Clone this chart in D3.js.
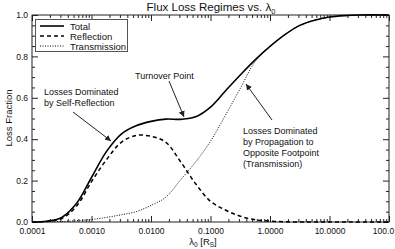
<!DOCTYPE html>
<html><head><meta charset="utf-8">
<script src="https://cdn.jsdelivr.net/npm/d3@7"></script>
<style>
html,body{margin:0;padding:0;background:#fff;}
text{font-family:"Liberation Sans",Arial,Helvetica,sans-serif;fill:#111;}
</style></head>
<body><svg id="c" width="395" height="249"></svg>
<script>
// log10(lambda0) sample positions
const logLambda = [-4,-3.75,-3.5,-3.25,-3,-2.75,-2.5,-2.25,-2,-1.75,-1.5,-1.25,-1,-0.75,-0.5,-0.25,0,0.25,0.5,0.75,1,1.25,1.5,2];
const total        = [0,0.004,0.022,0.09,0.215,0.34,0.425,0.465,0.486,0.497,0.496,0.508,0.555,0.633,0.71,0.783,0.848,0.905,0.95,0.975,0.99,0.997,1.0,1.0];
const reflection   = [0,0.003,0.017,0.077,0.195,0.3,0.385,0.418,0.414,0.385,0.29,0.185,0.1,0.058,0.028,0.011,0.004,0.001,0,0,0,0,0,0];
const transmission = [0,0.0005,0.002,0.006,0.012,0.022,0.035,0.05,0.08,0.12,0.205,0.29,0.39,0.515,0.645,0.775,0.848,0.905,0.95,0.975,0.99,0.997,1.0,1.0];
const xMajor = [1e-4,1e-3,1e-2,1e-1,1,10,100];
const xMajorLabels = ["0.0001","0.0010","0.0100","0.1000","1.0000","10.0000","100.0"];
const yMajor = [0,0.2,0.4,0.6,0.8,1.0];
const yMajorLabels = ["0.0","0.2","0.4","0.6","0.8","1.0"];
const legendNames = ["Total","Reflection","Transmission"];

const svg = d3.select("#c");
const L=32,R=389,T=15,B=222;
const x = d3.scaleLog().domain([1e-4,100]).range([L,R]);
const y = d3.scaleLinear().domain([0,1]).range([B,T]);

const xMinor=[];
for(let d=-4; d<2; d++) for(let k=2;k<=9;k++) xMinor.push(k*Math.pow(10,d));
const yMinor=d3.range(0,1.0001,0.05).filter(v=>Math.abs(v*5-Math.round(v*5))>1e-6);

function styleAxis(g){g.select(".domain").remove();g.selectAll("line").attr("stroke","#222").attr("stroke-width",1);
 g.selectAll("text").style("font-size","8.5px").attr("fill","#111");}

// bottom
const bx=svg.append("g").attr("transform",`translate(0,${B})`).call(d3.axisBottom(x).tickValues(xMajor).tickFormat((d,i)=>xMajorLabels[i]).tickSizeInner(-6).tickSizeOuter(0).tickPadding(6)).call(styleAxis);
bx.selectAll("text").filter(d=>d===100).attr("dx",-6);
svg.append("g").attr("transform",`translate(0,${B})`).call(d3.axisBottom(x).tickValues(xMinor).tickFormat("").tickSizeInner(-3).tickSizeOuter(0)).call(styleAxis);
// top
svg.append("g").attr("transform",`translate(0,${T})`).call(d3.axisTop(x).tickValues(xMajor).tickFormat("").tickSizeInner(-6).tickSizeOuter(0)).call(styleAxis);
svg.append("g").attr("transform",`translate(0,${T})`).call(d3.axisTop(x).tickValues(xMinor).tickFormat("").tickSizeInner(-3).tickSizeOuter(0)).call(styleAxis);
// left
svg.append("g").attr("transform",`translate(${L},0)`).call(d3.axisLeft(y).tickValues(yMajor).tickFormat((d,i)=>yMajorLabels[i]).tickSizeInner(-6).tickSizeOuter(0).tickPadding(4)).call(styleAxis);
svg.append("g").attr("transform",`translate(${L},0)`).call(d3.axisLeft(y).tickValues(yMinor).tickFormat("").tickSizeInner(-3).tickSizeOuter(0)).call(styleAxis);
// right
svg.append("g").attr("transform",`translate(${R},0)`).call(d3.axisRight(y).tickValues(yMajor).tickFormat("").tickSizeInner(-6).tickSizeOuter(0)).call(styleAxis);
svg.append("g").attr("transform",`translate(${R},0)`).call(d3.axisRight(y).tickValues(yMinor).tickFormat("").tickSizeInner(-3).tickSizeOuter(0)).call(styleAxis);
// frame
svg.append("rect").attr("x",L).attr("y",T).attr("width",R-L).attr("height",B-T).attr("fill","none").attr("stroke","#222").attr("stroke-width",1);

const line = v => d3.line().x((d,i)=>x(Math.pow(10,logLambda[i]))).y(d=>y(d)).curve(d3.curveCatmullRom.alpha(0.5))(v);
const series=[
 {vals:total,dash:null,w:1.6},
 {vals:reflection,dash:"4,3",w:1.5},
 {vals:transmission,dash:"1,1.5",w:1}];
series.forEach(s=>{
 svg.append("path").attr("d",line(s.vals)).attr("fill","none").attr("stroke","#000").attr("stroke-width",s.w).attr("stroke-dasharray",s.dash);
});

// legend
svg.append("rect").attr("x",35.5).attr("y",19.5).attr("width",92).attr("height",32).attr("fill","#fff").attr("stroke","#555").attr("stroke-width",1);
legendNames.forEach((n,i)=>{
 const yy=26+i*10;
 svg.append("line").attr("x1",40).attr("x2",64).attr("y1",yy).attr("y2",yy).attr("stroke","#000").attr("stroke-width",series[i].w).attr("stroke-dasharray",series[i].dash);
 svg.append("text").attr("x",70).attr("y",yy+3.5).style("font-size","9.5px").text(n);
});

// title
const title=svg.append("text").attr("x",211).attr("y",11).attr("text-anchor","middle").style("font-size","11.5px");
title.append("tspan").text("Flux Loss Regimes vs. λ");
title.append("tspan").attr("dy",2.5).style("font-size","7.5px").text("0");

// axis labels
svg.append("text").attr("transform","translate(12,118) rotate(-90)").attr("text-anchor","middle").style("font-size","9.5px").text("Loss Fraction");
const xl=svg.append("text").attr("x",203).attr("y",245).attr("text-anchor","middle").style("font-size","9.5px");
xl.append("tspan").text("λ");
xl.append("tspan").attr("dy",2).style("font-size","6.5px").text("0");
xl.append("tspan").attr("dy",-2).text(" [R");
xl.append("tspan").attr("dy",2).style("font-size","6.5px").text("S");
xl.append("tspan").attr("dy",-2).text("]");

// annotations
svg.append("defs").append("marker").attr("id","ah").attr("viewBox","0 0 10 10").attr("refX",10).attr("refY",5)
 .attr("markerWidth",6).attr("markerHeight",6).attr("markerUnits","userSpaceOnUse").attr("orient","auto")
 .append("path").attr("d","M0,0L10,5L0,10z").attr("fill","#222");
function arrow(x1,y1,x2,y2){svg.append("line").attr("x1",x1).attr("y1",y1).attr("x2",x2).attr("y2",y2).attr("stroke","#222").attr("stroke-width",1).attr("marker-end","url(#ah)");}
function note(x0,y0,lines){lines.forEach((t,i)=>svg.append("text").attr("x",x0).attr("y",y0+i*11).style("font-size","9px").attr("fill","#222").text(t));}
note(135,79,["Turnover Point"]);
note(44,95,["Losses Dominated","by Self-Reflection"]);
note(243,134,["Losses Dominated","by Propagation to","Opposite Footpoint","(Transmission)"]);
arrow(169,81,184,117);
arrow(73,112,111,141);
arrow(272,120,246,84);
</script></body></html>
